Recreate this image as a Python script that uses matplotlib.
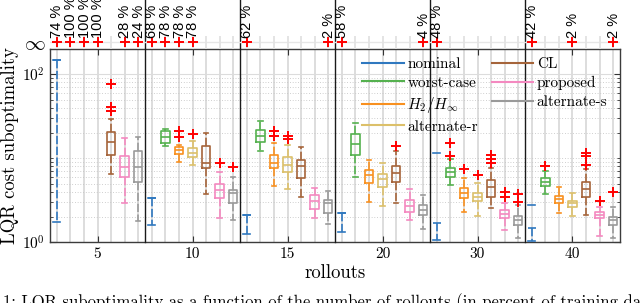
import matplotlib
matplotlib.use('Agg')
import matplotlib.pyplot as plt
import matplotlib.transforms as mtransforms
from matplotlib.ticker import FixedLocator, FixedFormatter, NullFormatter
from matplotlib.lines import Line2D

plt.rcParams['mathtext.fontset'] = 'cm'
plt.rcParams['axes.unicode_minus'] = False

# ---------------- data ----------------
rollouts = [5, 10, 15, 20, 30, 40]
methods = ['nominal', 'worst-case', r'$H_2/H_\infty$', 'alternate-r', 'CL', 'proposed', 'alternate-s']
colors = ['#2f78bf', '#55b14f', '#f8901f', '#dcc06a', '#a5643a', '#f489c0', '#9a9a9a']

# per method, per rollout group (None = no finite box)
whislo = [
    [1.73, 1.61, 1.26, 1.34, 1.07, 1.05],
    [None, 14.1, 12.3, 6.04, 4.8, 3.76],
    [None, 9.1, 4.72, 2.99, 2.27, 2.25],
    [None, 8.3, 4.3, 2.73, 2.06, 2.06],
    [6.5, 3.8, 3.49, 2.91, 2.54, 2.11],
    [2.91, 1.93, 1.93, 1.84, 1.40, 1.20],
    [1.79, 1.84, 1.64, 1.43, 1.12, 1.12],
]
q1 = [
    [148, 3.34, 2.11, 2.25, 1.68, 1.49],
    [None, 15.1, 15.5, 10.9, 6.04, 4.67],
    [None, 11.3, 7.67, 5.03, 3.34, 2.91],
    [None, 10.4, 6.9, 4.59, 3.13, 2.61],
    [10.9, 7.6, 5.88, 5.26, 3.49, 3.43],
    [6.04, 3.34, 2.47, 2.31, 1.96, 1.93],
    [5.26, 2.96, 2.25, 2.11, 1.61, 1.61],
]
med = [
    [148, 3.34, 2.11, 2.25, 1.68, 1.49],
    [None, 18.1, 18.4, 14.7, 6.9, 5.26],
    [None, 12.5, 8.87, 6.3, 3.83, 3.28],
    [None, 11.7, 8.3, 5.62, 3.49, 2.91],
    [15.5, 8.8, 8.1, 6.62, 4.59, 4.31],
    [7.94, 4.19, 3.13, 2.73, 2.17, 2.11],
    [7.94, 3.83, 2.91, 2.42, 1.84, 1.84],
]
q3 = [
    [148, 3.34, 2.11, 2.25, 11.5, 2.78],
    [None, 21.1, 21.7, 19.2, 7.7, 5.78],
    [None, 13.7, 10.9, 7.25, 4.38, 3.55],
    [None, 13.1, 10.4, 6.5, 3.89, 3.13],
    [20.4, 14.0, 9.5, 8.16, 5.5, 5.18],
    [10.6, 4.94, 3.66, 3.19, 2.42, 2.27],
    [12.3, 4.19, 3.19, 2.78, 2.06, 1.98],
]
whishi = [
    [148, 3.34, 2.11, 2.25, 11.5, 2.78],
    [None, 22.3, 28.0, 26.1, 9.7, 7.1],
    [None, 14.5, 15.1, 9.5, 5.78, 4.59],
    [None, 16.1, 14.4, 8.72, 5.03, 3.89],
    [29.1, 20.0, 13.5, 12.3, 7.6, 7.4],
    [17.6, 6.9, 4.38, 4.27, 2.91, 2.6],
    [17.8, 6.04, 4.08, 3.66, 2.78, 2.65],
]
outliers = [
    [[], [], [], [], [], []],
    [[], [], [], [], [10.6, 15.1], [8.1]],
    [[], [17.8, 21.3], [18.4, 21.3], [], [7.4], []],
    [[], [19.5], [16.8, 18.4], [], [6.3], []],
    [[36.5, 40.5, 76], [], [], [14.1], [8.72, 9.8, 10.9], [8.3, 10.6, 11.7]],
    [[], [8.87], [], [], [3.43, 4.0], [3.13]],
    [[], [7.94], [], [], [3.04, 3.72], [4.0]],
]
# percentage of runs with infinite cost (0 = none)
inf_pct = [
    [74, 68, 62, 58, 48, 42],
    [100, 78, 0, 0, 0, 0],
    [100, 78, 0, 0, 0, 0],
    [100, 78, 0, 0, 0, 2],
    [0, 0, 0, 0, 0, 0],
    [28, 0, 0, 0, 0, 0],
    [24, 0, 2, 4, 0, 2],
]
caption = '1: LQR suboptimality as a function of the number of rollouts (in percent of training data)'

# ---------------- figure ----------------
W, H = 640, 303
fig = plt.figure(figsize=(W / 100, H / 100), dpi=100)
L, R, T, B = 50, 620, 49, 242.3
ax = fig.add_axes([L / W, 1 - B / H, (R - L) / W, (B - T) / H])
st_top, st_bot = 35.5, 49
axs = fig.add_axes([L / W, 1 - st_bot / H, (R - L) / W, (st_bot - st_top) / H], sharex=ax)
axs.set_facecolor('none')

serif = 'cmr10'
nM, nG = len(methods), len(rollouts)
pos = lambda m, g: 7 * g + m + 1

lw = 1.2
for m in range(nM):
    c = colors[m]
    stats, ps = [], []
    for g in range(nG):
        if whislo[m][g] is None:
            continue
        stats.append(dict(whislo=whislo[m][g], q1=q1[m][g], med=med[m][g],
                          q3=q3[m][g], whishi=whishi[m][g], fliers=outliers[m][g]))
        ps.append(pos(m, g))
    ax.bxp(stats, positions=ps, widths=0.62, capwidths=(0.5 if m == 0 else 0.32),
           showbox=(m != 0), manage_ticks=False,
           boxprops=dict(color=c, lw=lw),
           whiskerprops=dict(color=c, lw=lw, ls=(0, (5, 1.5))),
           capprops=dict(color=c, lw=lw),
           medianprops=dict(color=c, lw=lw),
           flierprops=dict(marker='+', markeredgecolor='#ff0000', markersize=6.5,
                           markeredgewidth=1.4, linestyle='none'),
           zorder=3)

ax.set_yscale('log')
ax.set_ylim(1, 200)
ax.set_xlim(0.5, 7 * nG + 0.5)
ax.yaxis.set_major_locator(FixedLocator([1, 100]))
ax.yaxis.set_major_formatter(FixedFormatter([r'$10^0$', r'$10^2$']))
minors = [k * 10 ** e for e in range(0, 3) for k in range(1, 10) if not (k == 1 and e in (0, 2))]
ax.yaxis.set_minor_locator(FixedLocator([v for v in minors if v <= 200]))
ax.yaxis.set_minor_formatter(NullFormatter())

centers = [pos(3, g) for g in range(nG)]
ax.set_xticks(centers)
ax.set_xticklabels([str(r) for r in rollouts])
ax.set_xticks(range(1, 7 * nG + 1), minor=True)

ax.tick_params(which='both', direction='in', top=True, right=True, colors='#333333',
               labelcolor='black', labelsize=11)
ax.tick_params(which='major', length=4, width=0.8)
ax.tick_params(which='minor', length=2.5, width=0.6)
ax.tick_params(axis='x', which='minor', length=0)
for lab in ax.get_xticklabels() + ax.get_yticklabels():
    lab.set_fontfamily(serif)

ax.grid(True, axis='x', which='both', color='#dadada', lw=1.3, zorder=0)
ax.grid(True, axis='y', which='major', color='#dcdcdc', lw=0.8)
ax.grid(True, axis='y', which='minor', color='#c4c4c4', lw=0.7, ls=(0, (0.8, 2.0)))
ax.set_axisbelow(True)
for s in ax.spines.values():
    s.set_color('#3c3c3c')
    s.set_linewidth(1.0)

for g in range(1, nG):
    ax.axvline(7 * g + 0.5, 0, (B - 0) / (B - T), color='#1a1a1a', lw=1.0,
               clip_on=False, zorder=5)

ax.set_xlabel('rollouts', fontfamily=serif, fontsize=13.5, labelpad=2)
ax.set_ylabel('LQR cost suboptimality', fontfamily=serif, fontsize=13.5, labelpad=2.5)

# legend
handles = [Line2D([0], [0], color=c, lw=1.5) for c in colors]
ax.legend(handles, methods, ncol=2, loc='upper right', bbox_to_anchor=(1.002, 1.028),
          frameon=False, handlelength=2.7, handletextpad=0.25, columnspacing=0.9,
          labelspacing=0.33, borderpad=0.4, prop=dict(family=serif, size=11))

# top "infinity" strip
axs.set_ylim(0, 1)
axs.set_yticks([0.5])
axs.set_yticklabels([r'$\infty$'], fontsize=15)
axs.tick_params(axis='y', length=0, pad=3)
axs.tick_params(axis='x', which='both', length=0, labelbottom=False)
for s in axs.spines.values():
    s.set_visible(False)
axs.grid(True, axis='x', which='both', color='#e2e2e2', lw=1.3)
axs.axhline(0.5, color='#e6e6e6', lw=1.0, zorder=0)
trans = mtransforms.blended_transform_factory(axs.transData, axs.transAxes)
for m in range(nM):
    for g in range(nG):
        p = inf_pct[m][g]
        if p > 0:
            axs.plot(pos(m, g), 0.5, '+', color='#ff0000', ms=6.5, mew=1.4, clip_on=False)
            axs.text(pos(m, g) + 0.05, 0.82, f'{p} %', rotation=90, ha='center', va='bottom',
                     transform=trans, fontsize=10.5, family='Liberation Sans', clip_on=False)

# cropped figure caption at the bottom edge
fig.text(3 / W, 1 - 293 / H, caption, ha='left', va='top', fontfamily=serif, fontsize=12)

fig.savefig('out.png', dpi=100)
